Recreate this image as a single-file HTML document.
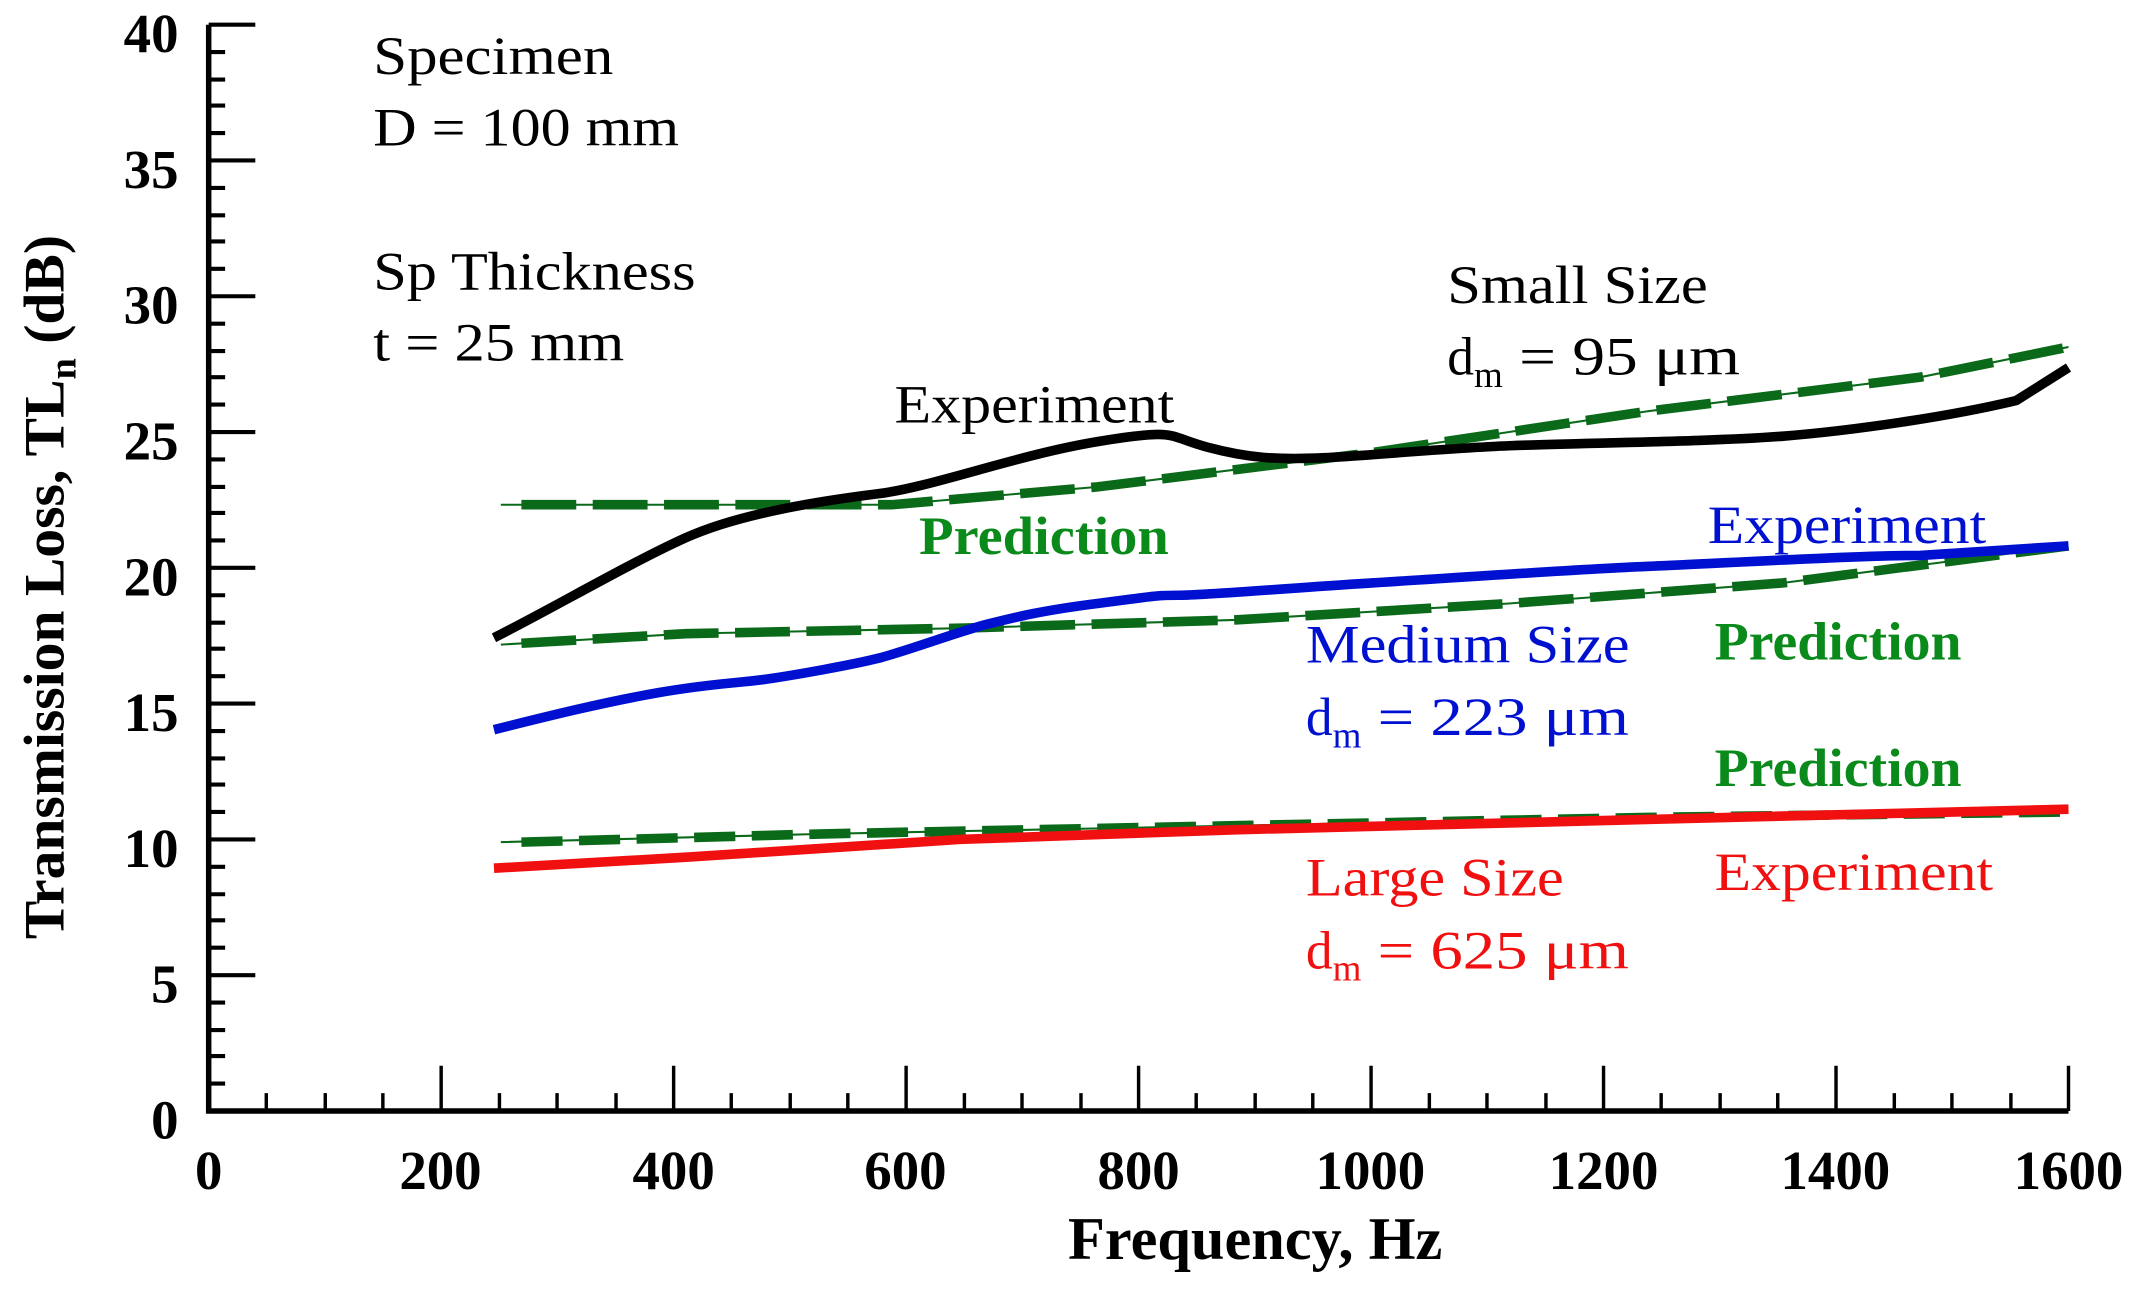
<!DOCTYPE html>
<html><head><meta charset="utf-8"><style>html,body{margin:0;padding:0;background:#fff}svg{display:block}</style></head>
<body>
<svg width="2151" height="1292" viewBox="0 0 1568 942" xmlns="http://www.w3.org/2000/svg" font-family="Liberation Serif, serif">
<rect width="1568" height="942" fill="#fff"/>
<g stroke="#000" fill="none">
<path d="M152 18 V810 H1508" stroke-width="4"/>
<g stroke-width="3">
<path d="M152 18H186M152 117H186M152 216H186M152 315H186M152 414H186M152 513H186M152 612H186M152 711H186"/>
<path d="M152 38H164M152 58H164M152 77H164M152 97H164M152 137H164M152 157H164M152 176H164M152 196H164M152 236H164M152 256H164M152 275H164M152 295H164M152 335H164M152 355H164M152 374H164M152 394H164M152 434H164M152 454H164M152 473H164M152 493H164M152 533H164M152 553H164M152 572H164M152 592H164M152 632H164M152 652H164M152 671H164M152 691H164M152 731H164M152 751H164M152 770H164M152 790H164"/>
</g>
<g stroke-width="2.5">
<path d="M321.5 810V777M491 810V777M660.5 810V777M830 810V777M999.5 810V777M1169 810V777M1338.5 810V777M1508 810V777"/>
<path d="M194 810V797M237 810V797M279 810V797M364 810V797M406 810V797M449 810V797M533 810V797M576 810V797M618 810V797M703 810V797M745 810V797M788 810V797M872 810V797M915 810V797M957 810V797M1042 810V797M1084 810V797M1127 810V797M1211 810V797M1254 810V797M1296 810V797M1381 810V797M1423 810V797M1466 810V797"/>
</g>
</g>
<g font-weight="bold" font-size="40" text-anchor="end">
<text x="130" y="38">40</text><text x="130" y="137">35</text><text x="130" y="236">30</text><text x="130" y="335">25</text><text x="130" y="434">20</text><text x="130" y="533">15</text><text x="130" y="632">10</text><text x="130" y="731">5</text><text x="130" y="830">0</text>
</g>
<g font-weight="bold" font-size="40" text-anchor="middle">
<text x="152" y="867">0</text><text x="321" y="867">200</text><text x="491" y="867">400</text><text x="660" y="867">600</text><text x="830" y="867">800</text><text x="999" y="867">1000</text><text x="1169" y="867">1200</text><text x="1338" y="867">1400</text><text x="1508" y="867">1600</text>
<text x="915" y="918" font-size="44">Frequency, Hz</text>
<text transform="translate(46,428) rotate(-90)" font-size="42">Transmission Loss, TL<tspan font-size="28" dy="9">n</tspan><tspan dy="-9"> (dB)</tspan></text>
</g>
<g stroke="#0a6a1a" fill="none">
<path d="M365 368 L650 368 L800 355 L1000 330 L1200 300 L1400 275 L1508 253" stroke-width="1.5"/>
<path d="M380 368 L650 368 L800 355 L1000 330 L1200 300 L1400 275 L1508 253" stroke-width="7" stroke-dasharray="40 12"/>
<path d="M365 470 L500 462 L700 458 L900 452 L1100 440 L1300 425 L1508 398" stroke-width="1.5"/>
<path d="M380 469 L500 462 L700 458 L900 452 L1100 440 L1300 425 L1508 398" stroke-width="7" stroke-dasharray="40 12"/>
<path d="M365 614 L600 608 L900 602 L1200 596 L1508 592" stroke-width="1.5"/>
<path d="M380 614 L600 608 L900 602 L1200 596 L1508 592" stroke-width="7" stroke-dasharray="30 12"/>
</g>
<g fill="none" stroke-width="7" stroke-linejoin="round">
<path stroke="#000" d="M360 465 C400 445 460 410 500 392 S600 365 640 360 S740 332 800 322 S850 318 880 326 S930 335 960 334 S1050 327 1100 325 S1250 322 1300 318 S1420 304 1470 292 L1508 268"/>
<path stroke="#0010d0" d="M360 532 C400 522 440 512 480 505 S540 498 560 495 S620 485 640 480 S700 460 720 455 S760 445 800 440 S840 434 860 434 S950 428 1000 425 S1150 415 1200 413 S1350 405 1400 405 L1508 398"/>
<path stroke="#f01010" d="M360 633 L500 625 L700 612 L900 605 L1100 600 L1300 595 L1508 590"/>
</g>
<g font-size="39" lengthAdjust="spacingAndGlyphs">
<text x="272" y="54" textLength="175" lengthAdjust="spacingAndGlyphs">Specimen</text>
<text x="272" y="106" textLength="223" lengthAdjust="spacingAndGlyphs">D = 100 mm</text>
<text x="272" y="211" textLength="235" lengthAdjust="spacingAndGlyphs">Sp Thickness</text>
<text x="272" y="263" textLength="183" lengthAdjust="spacingAndGlyphs">t = 25 mm</text>
<text x="652" y="308" textLength="204" lengthAdjust="spacingAndGlyphs">Experiment</text>
<text x="1055" y="221" textLength="190" lengthAdjust="spacingAndGlyphs">Small Size</text>
<text x="1055" y="273">d<tspan font-size="27" dy="9">m</tspan><tspan dy="-9" textLength="173" lengthAdjust="spacingAndGlyphs"> = 95 μm</tspan></text>
<g fill="#0010d0">
<text x="1245" y="396" textLength="203" lengthAdjust="spacingAndGlyphs">Experiment</text>
<text x="952" y="483" textLength="236" lengthAdjust="spacingAndGlyphs">Medium Size</text>
<text x="952" y="536">d<tspan font-size="27" dy="9">m</tspan><tspan dy="-9" textLength="195" lengthAdjust="spacingAndGlyphs"> = 223 μm</tspan></text>
</g>
<g fill="#f01010">
<text x="1250" y="649" textLength="203" lengthAdjust="spacingAndGlyphs">Experiment</text>
<text x="952" y="653" textLength="188" lengthAdjust="spacingAndGlyphs">Large Size</text>
<text x="952" y="706">d<tspan font-size="27" dy="9">m</tspan><tspan dy="-9" textLength="195" lengthAdjust="spacingAndGlyphs"> = 625 μm</tspan></text>
</g>
<g fill="#0a8a1a" font-weight="bold">
<text x="670" y="404" textLength="182" lengthAdjust="spacingAndGlyphs">Prediction</text>
<text x="1250" y="481" textLength="180" lengthAdjust="spacingAndGlyphs">Prediction</text>
<text x="1250" y="573" textLength="180" lengthAdjust="spacingAndGlyphs">Prediction</text>
</g>
</g>
</svg>
</body></html>
